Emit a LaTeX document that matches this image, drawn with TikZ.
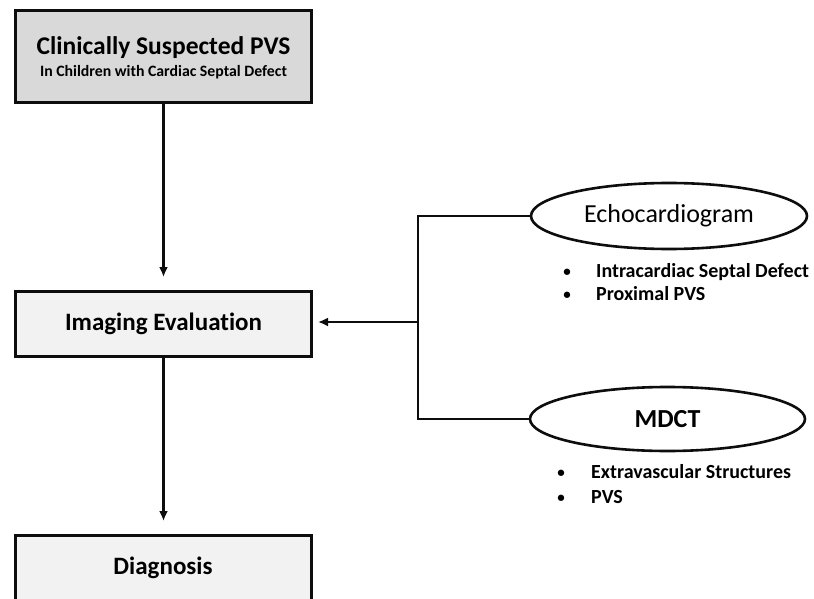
\documentclass[tikz,border=0pt]{standalone}
\usepackage{fontspec}
\setmainfont{Carlito}[Ligatures={NoCommon}]
\usetikzlibrary{shapes.geometric,arrows.meta}
\definecolor{boxdark}{HTML}{D9D9D9}
\definecolor{boxlight}{HTML}{F2F2F2}
\definecolor{ink}{HTML}{0D0D0D}
\tikzset{
  box/.style={draw=ink, line width=3pt, minimum width=296pt, inner sep=0pt, align=center, font=\fontsize{25}{28}\selectfont\bfseries},
  oval/.style={draw=ink, line width=2.6pt, ellipse, fill=white, inner sep=0pt},
  conn/.style={draw=ink, line width=2.6pt},
  arr/.style={conn, -{Latex[length=10pt,width=9pt]}},
  item/.style={anchor=base west, inner sep=0pt, font=\fontsize{20}{22}\selectfont\bfseries},
  dot/.style={anchor=base, inner sep=0pt, font=\fontsize{15}{18}\selectfont\bfseries},
}
\begin{document}
\begin{tikzpicture}[x=1pt,y=-1pt]
\useasboundingbox (0,0) rectangle (814,599);
\clip (0,0) rectangle (814,599);
\fill[white] (0,0) rectangle (814,599);
% left column
\node[box, fill=boxdark, minimum height=92pt] (susp) at (163.5,56.5) {};
\node[inner sep=0pt, font=\fontsize{25.5}{28}\selectfont\bfseries, anchor=base] (title) at (163.5,55) {Clinically Suspected PVS};
\node[inner sep=0pt, font=\fontsize{15.8}{18}\selectfont\bfseries, anchor=base] (sub) at (163.5,77) {In Children with Cardiac Septal Defect};
\node[box, fill=boxlight, minimum height=65pt] (img) at (163.5,323.5) {Imaging Evaluation};
\node[box, fill=boxlight, minimum height=66pt] (diag) at (163,568) {Diagnosis};
\coordinate (t1) at (163.5,277);
\coordinate (t2) at (163.5,521);
\draw[arr] (susp.south) -- (t1);
\draw[arr] (img.south) -- (t2);
% right column
\node[oval, minimum width=276pt, minimum height=66pt] (echo) at (669,216) {\fontsize{26}{28}\selectfont Echocardiogram};
\node[oval, minimum width=275pt, minimum height=64pt] (mdct) at (667.5,419) {\fontsize{26}{28}\selectfont\bfseries MDCT};
\coordinate (j1) at (418,216);
\coordinate (j2) at (418,419);
\coordinate (jm) at (418,322);
\coordinate (tip) at (318,322);
\draw[conn] (echo.west) -- (j1) -- (j2) -- (mdct.west);
\draw[arr] (jm) -- (tip);
% bullet lists
\node[dot] (b1) at (567,276) {\textbullet};
\node[item] (i1) at (596,277) {Intracardiac Septal Defect};
\node[dot] (b2) at (567,299) {\textbullet};
\node[item] (i2) at (596,300) {Proximal PVS};
\node[dot] (b3) at (561,477) {\textbullet};
\node[item] (i3) at (591,478) {Extravascular Structures};
\node[dot] (b4) at (561,502) {\textbullet};
\node[item] (i4) at (591,503) {PVS};
\end{tikzpicture}
\end{document}
